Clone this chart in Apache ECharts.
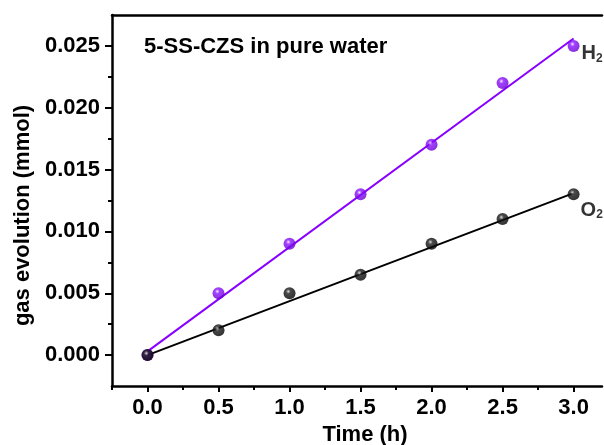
<!DOCTYPE html>
<html>
<head>
<meta charset="utf-8">
<script src="https://cdn.jsdelivr.net/npm/echarts@6/dist/echarts.min.js"></script>
<style>html,body{margin:0;padding:0;background:#fff}#c{width:604px;height:445px}</style>
</head>
<body>
<div id="c"></div>
<script>
// ---- data ----
const timeH = [0, 0.5, 1.0, 1.5, 2.0, 2.5, 3.0];
const h2Values = [0, 0.005, 0.009, 0.013, 0.017, 0.022, 0.025];
const o2Values = [0, 0.002, 0.005, 0.0065, 0.009, 0.011, 0.013];
const fitTimes = [0, 3.0];
const h2Fit = [0.0003, 0.0256];
const o2Fit = [0.0, 0.0131];
const xMajorTicks = [0, 0.5, 1.0, 1.5, 2.0, 2.5, 3.0];
const xMinorTicks = [-0.25, 0.25, 0.75, 1.25, 1.75, 2.25, 2.75];
const yMajorTicks = [0, 0.005, 0.010, 0.015, 0.020, 0.025];
const yMinorTicks = [0.0025, 0.0075, 0.0125, 0.0175, 0.0225];
const titleText = '5-SS-CZS in pure water';

const FONT = '"Liberation Sans", Arial, sans-serif';
const purple = '#8800ff';
const chart = echarts.init(document.getElementById('c'));

function pairs(xs, ys) { return xs.map((x, i) => [x, ys[i]]); }
function sphere(c1, c2, c3) {
  return { type: 'radial', x: 0.4, y: 0.35, r: 0.65,
    colorStops: [{offset: 0, color: c1}, {offset: 0.3, color: c2}, {offset: 1, color: c3}] };
}
function withEndLabel(data, text, offset) {
  return data.map((d, i) => i === data.length - 1
    ? { value: d, label: { show: true, position: 'right', offset: offset, formatter: text,
        color: '#000', fontFamily: FONT, fontWeight: 'bold', fontSize: 20,
        rich: { s: { fontFamily: FONT, fontWeight: 'bold', fontSize: 12, padding: [9, 0, 0, 0], color: '#000' } } } }
    : d);
}

const axisCommon = {
  type: 'value', min: -0.25, max: 3.2, splitLine: { show: false }
};
const yCommon = {
  type: 'value', min: -0.0025, max: 0.0275, splitLine: { show: false }
};

chart.setOption({
  backgroundColor: '#fff',
  animation: false,
  title: {
    text: titleText, left: 139, top: 31,
    textStyle: { fontFamily: FONT, fontWeight: 'bold', fontSize: 22, color: '#000' }
  },
  grid: { left: 112, right: 2, top: 15, bottom: 59, outerBoundsMode: 'none', containLabel: false },
  xAxis: [
    Object.assign({}, axisCommon, {
      position: 'bottom',
      name: 'Time (h)', nameLocation: 'middle', nameGap: 36,
      nameTextStyle: { fontFamily: FONT, fontWeight: 'bold', fontSize: 22, color: '#000', padding: [0, 0, 0, 16] },
      axisLine: { show: true, onZero: false, lineStyle: { color: '#000', width: 2.5 } },
      axisTick: { show: true, customValues: xMajorTicks, length: 6, lineStyle: { color: '#000', width: 2 } },
      axisLabel: { customValues: xMajorTicks, margin: 11, formatter: v => v.toFixed(1),
        fontFamily: FONT, fontWeight: 'bold', fontSize: 22, color: '#000' }
    }),
    Object.assign({}, axisCommon, {
      position: 'bottom',
      axisLine: { show: false, onZero: false },
      axisTick: { show: true, customValues: xMinorTicks, length: 4, lineStyle: { color: '#000', width: 2 } },
      axisLabel: { show: false }
    }),
    Object.assign({}, axisCommon, {
      position: 'top',
      axisLine: { show: true, onZero: false, lineStyle: { color: '#000', width: 2.5 } },
      axisTick: { show: false }, axisLabel: { show: false }
    })
  ],
  yAxis: [
    Object.assign({}, yCommon, {
      position: 'left',
      name: 'gas evolution (mmol)', nameLocation: 'middle', nameGap: 76,
      nameTextStyle: { fontFamily: FONT, fontWeight: 'bold', fontSize: 22, color: '#000', padding: [0, 30, 0, 0] },
      axisLine: { show: true, onZero: false, lineStyle: { color: '#000', width: 2.5 } },
      axisTick: { show: true, customValues: yMajorTicks, length: 7, lineStyle: { color: '#000', width: 2 } },
      axisLabel: { customValues: yMajorTicks, margin: 12, formatter: v => v.toFixed(3),
        fontFamily: FONT, fontWeight: 'bold', fontSize: 22, color: '#000' }
    }),
    Object.assign({}, yCommon, {
      position: 'left',
      axisLine: { show: false, onZero: false },
      axisTick: { show: true, customValues: yMinorTicks, length: 4, lineStyle: { color: '#000', width: 2 } },
      axisLabel: { show: false }
    })
  ],
  series: [
    { type: 'line', data: pairs(fitTimes, h2Fit), symbol: 'none', lineStyle: { color: purple, width: 2 }, z: 2 },
    { type: 'line', data: pairs(fitTimes, o2Fit), symbol: 'none', lineStyle: { color: '#000', width: 2 }, z: 2 },
    { type: 'scatter', data: withEndLabel(pairs(timeH, h2Values), 'H{s|2}', [-3, 8]), symbolSize: 12,
      itemStyle: { color: sphere('#f4e8ff', '#8a10ff', '#6a00d0') }, z: 3 },
    { type: 'scatter', data: withEndLabel(pairs(timeH, o2Values), 'O{s|2}', [-4, 16]), symbolSize: 12,
      itemStyle: { color: sphere('#d0d0d0', '#1a1a1a', '#000') }, z: 3 }
  ]
});
</script>
</body>
</html>
